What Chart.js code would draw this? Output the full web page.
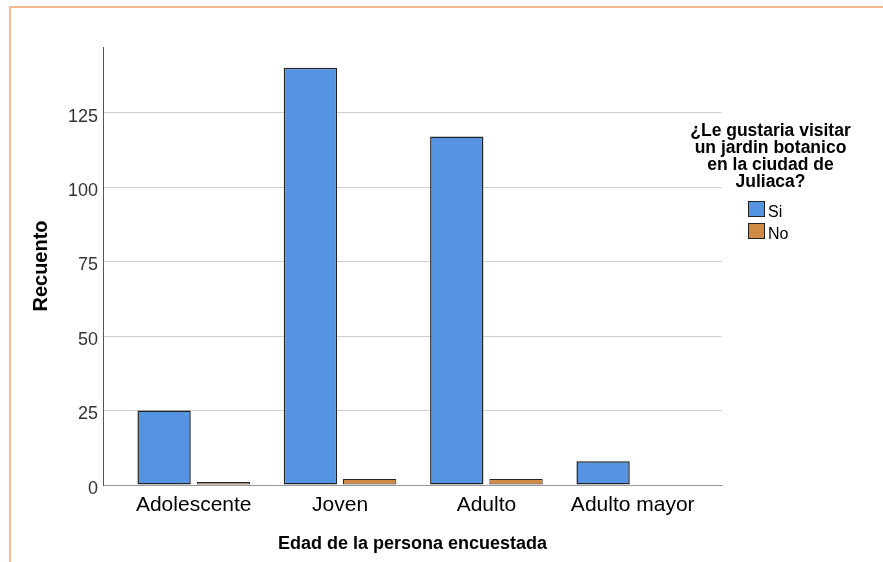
<!DOCTYPE html>
<html><head><meta charset="utf-8">
<script src="https://cdn.jsdelivr.net/npm/chart.js@4/dist/chart.umd.min.js"></script>
<style>
html,body{margin:0;padding:0;background:#fff;overflow:hidden}
#wrap{position:relative;width:883px;height:562px}
#frame{position:absolute;left:9px;top:6px;width:900px;height:600px;border:2px solid #F7B891;box-sizing:border-box}
canvas{position:absolute;left:0;top:0}
</style></head><body>
<div id="wrap"><div id="frame"></div><canvas id="c" width="883" height="562"></canvas></div>
<script>
const categories = ['Adolescente', 'Joven', 'Adulto', 'Adulto mayor'];
const seriesNames = ['Si', 'No'];
const siValues = [25, 140, 117, 8];
const noValues = [1, 2, 2, 0];
const yTicks = [0, 25, 50, 75, 100, 125];
const legendTitle = ['¿Le gustaria visitar', 'un jardin botanico', 'en la ciudad de', 'Juliaca?'];
const xTitle = 'Edad de la persona encuestada';
const yTitle = 'Recuento';

const FONT = '"Liberation Sans", Arial, sans-serif';

const legendPlugin = {
  id: 'spssLegend',
  afterDraw(chart) {
    const ctx = chart.ctx;
    ctx.save();
    ctx.fillStyle = '#000';
    ctx.font = 'bold 17.5px ' + FONT;
    ctx.textAlign = 'center';
    ctx.textBaseline = 'alphabetic';
    legendTitle.forEach((t, i) => ctx.fillText(t, 770.5, 136 + i * 17));
    chart.data.datasets.forEach((ds, i) => {
      const y = 201 + i * 22;
      ctx.fillStyle = ds.backgroundColor;
      ctx.fillRect(748, y, 17, 16);
      ctx.strokeStyle = '#222';
      ctx.lineWidth = 1;
      ctx.strokeRect(748.5, y + 0.5, 16, 15);
      ctx.fillStyle = '#000';
      ctx.font = '16px ' + FONT;
      ctx.textAlign = 'left';
      ctx.fillText(ds.label, 768, y + 16);
    });
    ctx.restore();
  }
};

const toPoints = arr => arr.map((v, i) => ({ x: i, y: v }));

new Chart(document.getElementById('c'), {
  type: 'bar',
  data: {
    datasets: [
      { label: seriesNames[0], data: toPoints(siValues), backgroundColor: '#5594E3', borderColor: '#222', borderWidth: 1.5 },
      { label: seriesNames[1], data: toPoints(noValues), backgroundColor: '#D08A44', borderColor: '#222', borderWidth: 1 }
    ]
  },
  options: {
    responsive: false,
    animation: false,
    layout: { padding: { top: 47, right: 161, left: 0, bottom: 0 } },
    datasets: { bar: { categoryPercentage: 0.81, barPercentage: 0.9, borderSkipped: false } },
    plugins: { legend: { display: false }, tooltip: { enabled: false } },
    scales: {
      x: {
        type: 'linear',
        offset: false,
        min: -0.62,
        max: 3.61,
        bounds: 'data',
        afterBuildTicks: s => { s.ticks = categories.map((c, i) => ({ value: i })); },
        afterFit: s => { s.height = 77; },
        grid: { display: false, drawTicks: false, offset: false },
        border: { display: true, color: '#9a9a9a', width: 1 },
        ticks: {
          autoSkip: false, maxRotation: 0, padding: 8, color: '#000',
          font: { family: FONT, size: 21 },
          callback: v => categories[Math.round(v)] ?? ''
        },
        title: { display: true, text: xTitle, color: '#000', font: { family: FONT, size: 18, weight: 'bold' }, padding: { top: 0, bottom: 7 } }
      },
      y: {
        min: 0,
        max: 147,
        bounds: 'data',
        afterBuildTicks: s => { s.ticks = yTicks.map(v => ({ value: v })); },
        afterFit: s => { s.width = 103; },
        grid: { color: '#cfcfcf', drawTicks: false },
        border: { display: true, color: '#555', width: 1 },
        ticks: { padding: 5, labelOffset: 4, color: '#333', font: { family: FONT, size: 18 } },
        title: { display: true, text: yTitle, color: '#000', font: { family: FONT, size: 20, weight: 'bold' }, padding: { top: 29, bottom: 0 } }
      }
    }
  },
  plugins: [legendPlugin]
});
</script>
</body></html>
